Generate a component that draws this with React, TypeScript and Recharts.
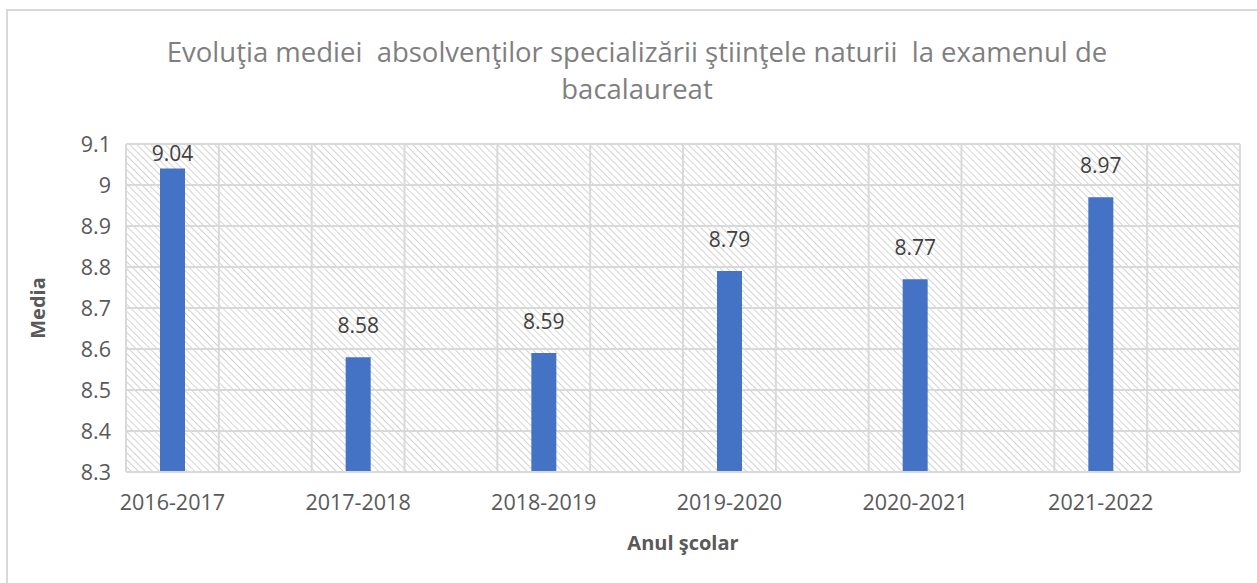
import { BarChart, Bar, XAxis, YAxis, CartesianGrid, LabelList } from "recharts";

const categories = ["2016-2017", "2017-2018", "2018-2019", "2019-2020", "2020-2021", "2021-2022"];
const averages = [9.04, 8.58, 8.59, 8.79, 8.77, 8.97];
const yTicks = [8.3, 8.4, 8.5, 8.6, 8.7, 8.8, 8.9, 9, 9.1];

// Excel layout: every year is followed by an empty slot
const table = categories.flatMap((c, i) => [
  { name: c, value: averages[i] },
  { name: "gap" + i, value: null },
]);

const FONT = "'Open Sans', sans-serif";
const GRID = "#d9d9d9";

// value label above the bar, kept inside the plot like Excel does
const ValueLabel = (props: any) => {
  const { x, y, width, value } = props;
  if (value == null) return null;
  const baseline = Math.max(y - 24, 161);
  return (
    <text x={x + width / 2} y={baseline} textAnchor="middle" fill="#404040" fontSize={21} fontFamily={FONT}>
      {Number(value).toFixed(2)}
    </text>
  );
};

export default function App() {
  return (
    <div style={{ position: "absolute", left: 0, top: 0, width: 1257, height: 583, overflow: "hidden", background: "#fff", fontFamily: FONT }}>
      <div style={{ position: "absolute", left: 6, top: 9, width: 1280, height: 600, border: "2px solid #d9d9d9" }} />
      <div style={{ position: "absolute", left: 0, top: 33, width: 1274, textAlign: "center", fontSize: 27.5, lineHeight: "37px", color: "#7f7f7f", whiteSpace: "pre" }}>
        {"Evoluţia mediei  absolvenţilor specializării ştiinţele naturii  la examenul de\nbacalaureat"}
      </div>
      <div style={{ position: "absolute", left: 37, top: 308, transform: "translate(-50%, -50%) rotate(-90deg)", fontSize: 20, fontWeight: 700, color: "#595959" }}>
        Media
      </div>
      <div style={{ position: "absolute", top: 0, left: 0 }}>
        <BarChart width={1257} height={583} data={table} margin={{ top: 144, right: 17, bottom: 21, left: 0 }}>
          <defs>
            <pattern id="hatch" patternUnits="userSpaceOnUse" width="5" height="5" patternTransform="rotate(45)">
              <line x1="0" y1="0" x2="5" y2="0" stroke="#d4d4d4" strokeWidth="2" />
            </pattern>
          </defs>
          <CartesianGrid
            stroke={GRID}
            strokeWidth={2}
            fill="url(#hatch)"
            fillOpacity={1}
            verticalCoordinatesGenerator={({ offset }: any) =>
              table.map((_, i) => offset.left + (i * offset.width) / table.length).concat(offset.left + offset.width)
            }
          />
          <XAxis
            dataKey="name"
            interval={0}
            height={90}
            tickLine={false}
            tickSize={0}
            tickMargin={23}
            axisLine={{ stroke: GRID, strokeWidth: 2 }}
            tick={{ fill: "#595959", fontSize: 21.5, fontFamily: FONT }}
            tickFormatter={(v: string) => (v.startsWith("gap") ? "" : v)}
            label={{ value: "Anul şcolar", position: "insideBottom", offset: 12, fill: "#595959", fontSize: 20, fontWeight: 700, fontFamily: FONT }}
          />
          <YAxis
            width={126}
            domain={[8.3, 9.1]}
            ticks={yTicks}
            axisLine={false}
            tickLine={false}
            tickSize={0}
            tickMargin={15}
            tick={{ fill: "#595959", fontSize: 21.5, fontFamily: FONT }}
            tickFormatter={(v: number) => String(Math.round(v * 10) / 10)}
          />
          <Bar dataKey="value" fill="#4472C4" barSize={25} isAnimationActive={false}>
            <LabelList dataKey="value" content={<ValueLabel />} />
          </Bar>
        </BarChart>
      </div>
    </div>
  );
}
